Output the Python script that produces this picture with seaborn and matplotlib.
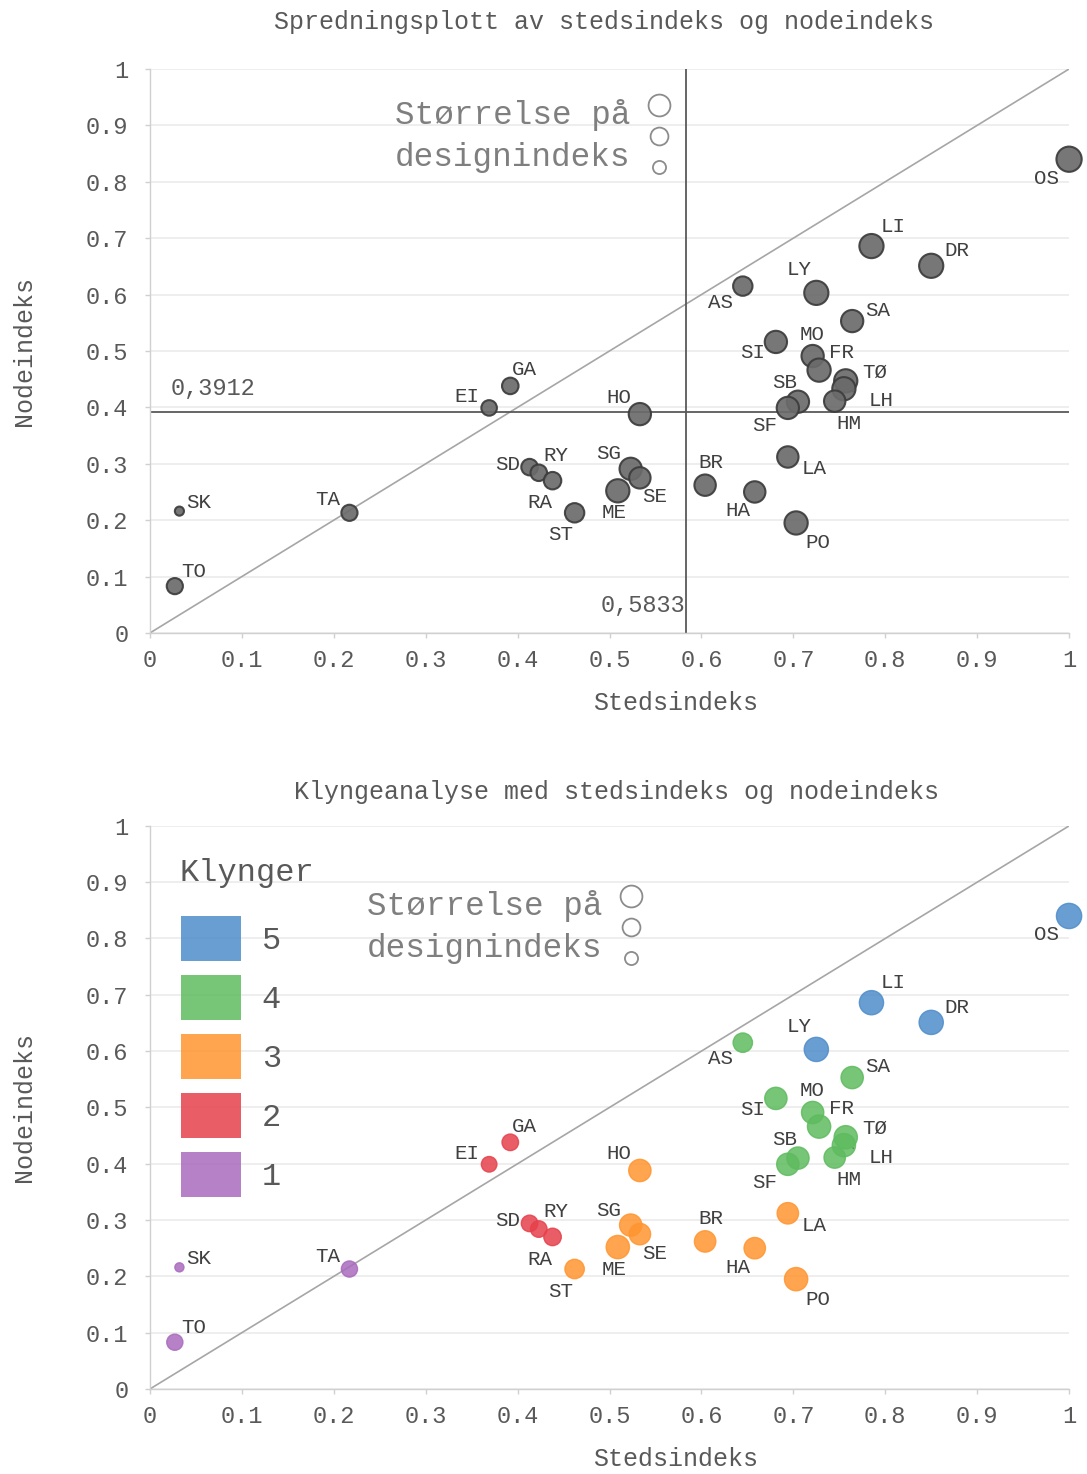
import numpy as np
import pandas as pd
import matplotlib
matplotlib.use("Agg")
import matplotlib.pyplot as plt
from matplotlib.lines import Line2D
from matplotlib.patches import Patch
import seaborn as sns

# data
names = ["OS", "LI", "DR", "AS", "LY", "SA", "SI", "MO", "FR", "TØ", "LH", "HM", "SB", "SF", "HO",
         "EI", "GA", "SD", "RA", "RY", "SG", "SE", "ME", "ST", "BR", "LA", "HA", "PO", "SK", "TA", "TO"]
stedsindeks = [1.000, 0.785, 0.850, 0.645, 0.725, 0.764, 0.681, 0.721, 0.728, 0.757, 0.755, 0.745,
               0.705, 0.694, 0.533, 0.369, 0.392, 0.413, 0.423, 0.438, 0.523, 0.533, 0.509, 0.462,
               0.604, 0.694, 0.658, 0.703, 0.032, 0.217, 0.027]
nodeindeks = [0.840, 0.686, 0.651, 0.615, 0.603, 0.553, 0.516, 0.491, 0.466, 0.447, 0.433, 0.411,
              0.410, 0.399, 0.388, 0.399, 0.438, 0.294, 0.284, 0.270, 0.291, 0.275, 0.252, 0.213,
              0.262, 0.312, 0.250, 0.195, 0.216, 0.213, 0.083]
designindeks = [1.00, 0.92, 0.92, 0.59, 0.92, 0.78, 0.78, 0.78, 0.85, 0.85, 0.85, 0.72, 0.78, 0.78,
                0.78, 0.38, 0.43, 0.43, 0.43, 0.48, 0.78, 0.72, 0.85, 0.59, 0.72, 0.72, 0.72, 0.85,
                0.13, 0.41, 0.41]
klynge = [5, 5, 5, 4, 5, 4, 4, 4, 4, 4, 4, 4, 4, 4, 3, 2, 2, 2, 2, 2, 3, 3, 3, 3, 3, 3, 3, 3, 1, 1, 1]

sted_snitt = 0.5833
node_snitt = 0.3912
tick_values = [0, 0.1, 0.2, 0.3, 0.4, 0.5, 0.6, 0.7, 0.8, 0.9, 1]
tick_labels = ["0", "0.1", "0.2", "0.3", "0.4", "0.5", "0.6", "0.7", "0.8", "0.9", "1"]
size_levels = [0.75, 0.5, 0.27]
cluster_order = [5, 4, 3, 2, 1]
cluster_colors = {5: "#4f8dca", 4: "#5fbb5f", 3: "#ff9530", 2: "#e6414c", 1: "#a96bbd"}

# label offsets in pixels (dx right, dy down)
label_offsets = {
    "OS": (-23, 19), "LI": (22, -20), "DR": (26, -15), "AS": (-22, 16), "LY": (-17, -23),
    "SA": (26, -11), "SI": (-23, 11), "MO": (-1, -22), "FR": (22, -18), "TØ": (29, -9),
    "LH": (37, 12), "HM": (14, 22), "SB": (-13, -19), "SF": (-23, 18), "HO": (-21, -17),
    "EI": (-22, -11), "GA": (14, -16), "SD": (-22, -3), "RA": (1, 30), "RY": (3, -25),
    "SG": (-22, -15), "SE": (15, 19), "ME": (-4, 22), "ST": (-14, 22), "BR": (6, -23),
    "LA": (26, 12), "HA": (-17, 19), "PO": (22, 20), "SK": (19, -9), "TA": (-22, -13),
    "TO": (19, -15),
}

df = pd.DataFrame({"navn": names, "sted": stedsindeks, "node": nodeindeks,
                   "design": designindeks, "klynge": klynge})

sns.set_theme(style="white")
plt.rcParams["font.family"] = ["Liberation Mono", "DejaVu Sans"]

GREY_TXT = "#595959"
LABEL_TXT = "#404040"
SMAX = 330
size_range = (SMAX * min(designindeks), SMAX * max(designindeks))

fig = plt.figure(figsize=(10.87, 14.74), dpi=100)
ax1 = fig.add_axes([0.138, 0.5706, 0.8455, 0.3826])
ax2 = fig.add_axes([0.138, 0.0577, 0.8455, 0.382])


def style_axes(ax):
    ax.set_xlim(0, 1)
    ax.set_ylim(0, 1)
    ax.set_xticks(tick_values)
    ax.set_xticklabels(tick_labels)
    ax.set_yticks(tick_values)
    ax.set_yticklabels(tick_labels)
    ax.tick_params(axis="x", length=3.6, width=1, color="#d0d0d0", labelcolor=GREY_TXT,
                   labelsize=17, pad=8, bottom=True)
    ax.tick_params(axis="y", length=3.6, width=1, color="#d0d0d0", labelcolor=GREY_TXT,
                   labelsize=17, pad=12, left=True)
    for side in ["top", "right"]:
        ax.spines[side].set_visible(False)
    for side in ["left", "bottom"]:
        ax.spines[side].set_color("#d0d0d0")
        ax.spines[side].set_linewidth(1)
    ax.yaxis.grid(True, color="#ebebeb", lw=1.2)
    ax.xaxis.grid(False)
    ax.set_axisbelow(True)
    ax.set_xlabel("Stedsindeks", fontsize=18, color=GREY_TXT)
    ax.set_ylabel("Nodeindeks", fontsize=18, color=GREY_TXT)
    ax.xaxis.set_label_coords(0.572, -0.103)
    ax.yaxis.set_label_coords(-0.124, 0.5)
    # diagonal reference
    ax.plot([0, 1], [0, 1], color="#a6a6a6", lw=1.2, zorder=1)


def add_labels(ax):
    for name, x, y in zip(names, stedsindeks, nodeindeks):
        dx, dy = label_offsets[name]
        if name == "LH":
            ax.annotate(name, (x, y), xytext=(dx, -dy), textcoords="offset pixels",
                        ha="center", va="center", fontsize=15, color=LABEL_TXT, zorder=5,
                        arrowprops=dict(arrowstyle="-", color="#595959", lw=1,
                                        shrinkA=9, shrinkB=7))
        else:
            ax.annotate(name, (x, y), xytext=(dx, -dy), textcoords="offset pixels",
                        ha="center", va="center", fontsize=15, color=LABEL_TXT, zorder=5)


def add_size_legend(ax, text_x, text_y, circ_x, circ_y):
    ax.text(text_x, text_y, "Størrelse på\ndesignindeks", transform=ax.transAxes,
            ha="left", va="center", fontsize=23.5, color="#7f7f7f", linespacing=1.45)
    handles = [Line2D([], [], ls="", marker="o", markersize=np.sqrt(SMAX * lv),
                      markerfacecolor="none", markeredgecolor="#8c8c8c", markeredgewidth=1.3)
               for lv in size_levels]
    leg = ax.legend(handles, ["", "", ""], loc="center", bbox_to_anchor=(circ_x, circ_y),
                    frameon=False, fontsize=10, handlelength=1.6, handleheight=1.6,
                    handletextpad=0, labelspacing=0.95, borderpad=0, borderaxespad=0)
    return leg


# ---- top: scatter plot ----
style_axes(ax1)
sns.scatterplot(data=df, x="sted", y="node", size="design", sizes=size_range,
                color="#6b6b6b", edgecolor="#3c3c3c", linewidth=1.5, alpha=0.92,
                legend=False, ax=ax1, clip_on=False, zorder=3)
ax1.axvline(sted_snitt, color="#595959", lw=1.3, zorder=2)
ax1.axhline(node_snitt, color="#595959", lw=1.3, zorder=2)
ax1.text(0.022, 0.434, "0,3912", fontsize=17, color=GREY_TXT, ha="left", va="center")
ax1.text(0.583, 0.048, "0,5833", fontsize=17, color=GREY_TXT, ha="right", va="center")
add_labels(ax1)
add_size_legend(ax1, 0.2666, 0.881, 0.554, 0.877)

# ---- bottom: cluster plot ----
style_axes(ax2)
sns.scatterplot(data=df, x="sted", y="node", size="design", sizes=size_range,
                hue="klynge", palette=cluster_colors, hue_order=cluster_order,
                edgecolor="face", linewidth=1, alpha=0.85,
                legend=False, ax=ax2, clip_on=False, zorder=3)
add_labels(ax2)
size_leg = add_size_legend(ax2, 0.236, 0.821, 0.523, 0.817)
ax2.add_artist(size_leg)
ax2.text(0.0326, 0.9165, "Klynger", transform=ax2.transAxes, ha="left", va="center",
         fontsize=23, color=GREY_TXT)
cluster_handles = [Patch(facecolor=cluster_colors[k], alpha=0.85, edgecolor="none")
                   for k in cluster_order]
ax2.legend(cluster_handles, [str(k) for k in cluster_order],
           loc="upper left", bbox_to_anchor=(0.0337, 0.840), frameon=False,
           fontsize=23, handlelength=1.875, handleheight=1.786,
           handletextpad=0.65, labelspacing=0.44, borderpad=0, borderaxespad=0,
           labelcolor=GREY_TXT)

# titles
fig.text(604 / 1087, 1 - 22 / 1474, "Spredningsplott av stedsindeks og nodeindeks",
         ha="center", va="center", fontsize=18, color=GREY_TXT)
fig.text(617 / 1087, 1 - 792 / 1474, "Klyngeanalyse med stedsindeks og nodeindeks",
         ha="center", va="center", fontsize=18, color=GREY_TXT)

fig.savefig("out.png", dpi=100)
